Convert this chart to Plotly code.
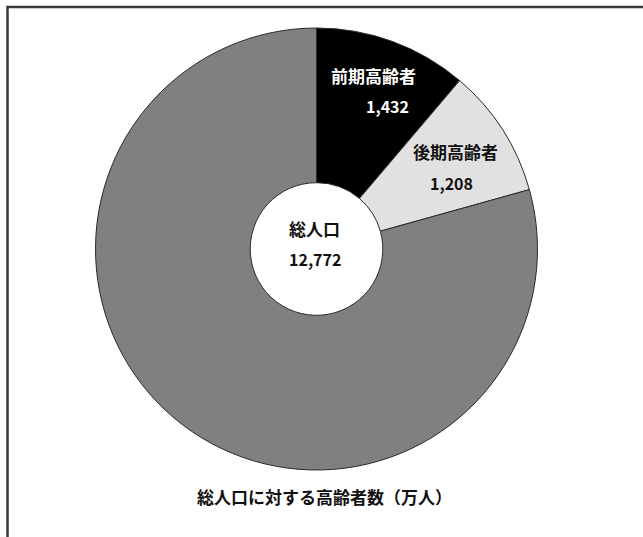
import plotly.graph_objects as go

# Population breakdown (unit: 10,000 people)
total_label = "総人口"
total_value = 12772
categories = ["前期高齢者", "後期高齢者", "その他"]
values = [1432, 1208, 12772 - 1432 - 1208]
value_labels = ["1,432", "1,208", ""]
caption = "総人口に対する高齢者数（万人）"

W, H = 643, 537
FONT = "Noto Sans CJK JP"

# pie placement in pixels
cx, cy, R = 316.5, 249.0, 221.0
dom_x = [(cx - R) / W, (cx + R) / W]
dom_y = [(H - cy - R) / H, (H - cy + R) / H]

fig = go.Figure(
    go.Pie(
        labels=categories,
        values=values,
        sort=False,
        direction="clockwise",
        rotation=0,
        hole=0.30,
        textinfo="none",
        hoverinfo="label+value",
        marker=dict(colors=["#000000", "#e1e1e1", "#808080"],
                    line=dict(color="#2a2a2a", width=1)),
        domain=dict(x=dom_x, y=dom_y),
        showlegend=False,
    )
)


def px(x, y):
    return x / W, 1 - y / H


annos = []


def add_text(text, x, y, color="#111111", size=17):
    ax, ay = px(x, y)
    annos.append(dict(x=ax, y=ay, xref="paper", yref="paper", text=text,
                      showarrow=False, xanchor="center", yanchor="middle",
                      font=dict(family=FONT, size=size, color=color, weight="bold")))


add_text(categories[0], 373, 75, color="#ffffff")
add_text(value_labels[0], 387, 106, color="#ffffff", size=16)
add_text(categories[1], 455, 152)
add_text(value_labels[1], 451, 183, size=16)
add_text(total_label, 314, 228)
add_text(f"{total_value:,}", 315, 259, size=16)
add_text(caption, 324, 496)

fig.update_layout(
    width=W, height=H,
    margin=dict(l=0, r=0, t=0, b=0),
    paper_bgcolor="#ffffff",
    plot_bgcolor="#ffffff",
    annotations=annos,
    shapes=[dict(type="rect", xref="paper", yref="paper",
                 x0=7.5 / W, x1=1.05, y0=-0.05, y1=1 - 7 / H,
                 line=dict(color="#3a3a3a", width=2.5))],
)

fig.write_html("out.html")
